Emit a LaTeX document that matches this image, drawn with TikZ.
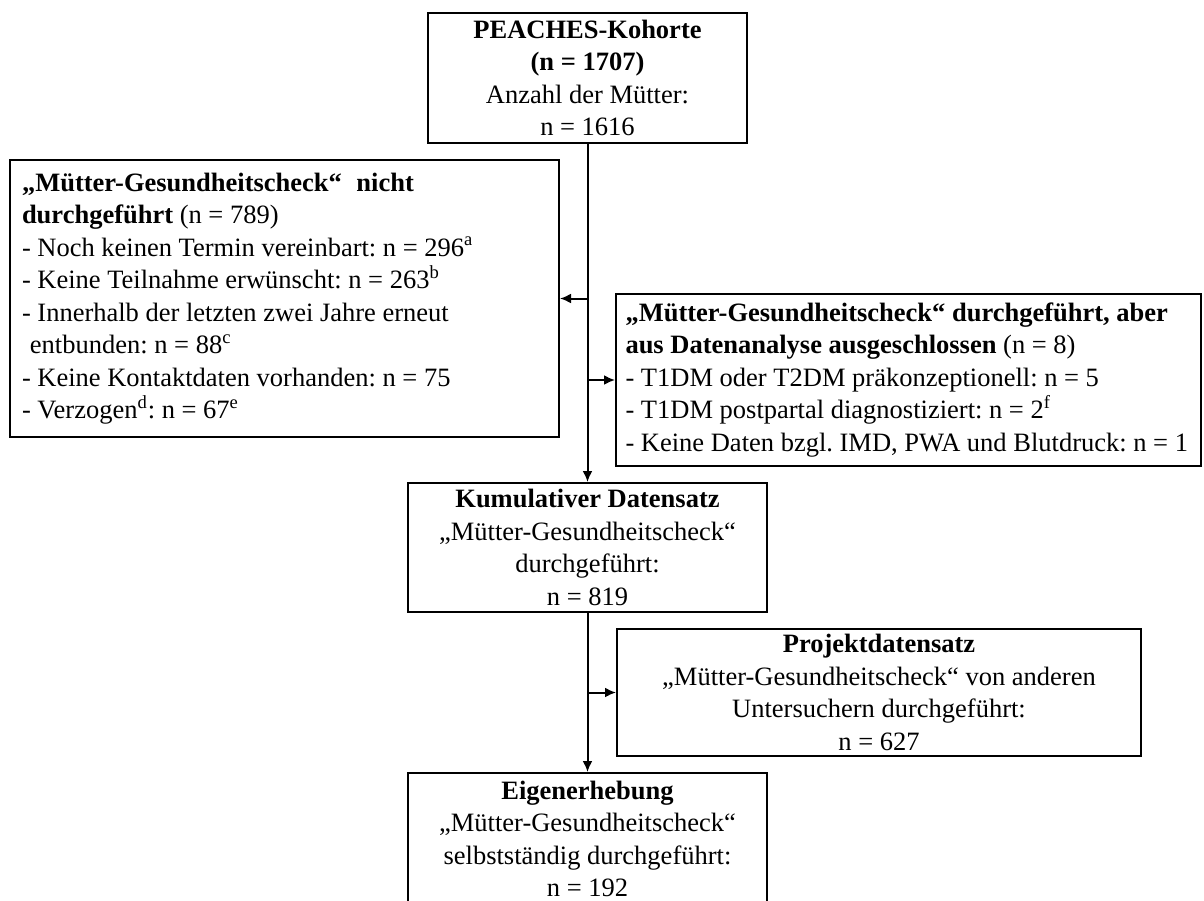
\documentclass[tikz,border=0pt]{standalone}
\usepackage{fontspec}
\setmainfont{Liberation Serif}
\usetikzlibrary{arrows.meta}
\begin{document}
\begin{tikzpicture}[x=0.5pt,y=-0.5pt,
  box/.style={draw, line width=1pt, rectangle, font=\fontsize{13.25}{16.25}\selectfont\frenchspacing, inner ysep=1pt},
  cbox/.style={box, align=center},
  lbox/.style={box, align=flush left},
  arr/.style={line width=1pt, -{Latex[length=5.5pt,width=5pt]}}]
\useasboundingbox (0,0) rectangle (1204,900);

\node[cbox, minimum width=159.5pt, minimum height=65pt] (top) at (587.5,78)
  {\textbf{PEACHES-Kohorte}\\\textbf{(n = 1707)}\\Anzahl der Mütter:\\n = 1616};

\node[lbox, text width=262.5pt, inner xsep=6pt, minimum height=138.5pt] (left) at (284.5,298.5)
  {\textbf{„Mütter-Gesundheitscheck“\hspace{0.3em} nicht}\\
   \textbf{durchgeführt} (n = 789)\\
   - Noch keinen Termin vereinbart: n = 296\textsuperscript{a}\\
   - Keine Teilnahme erwünscht: n = 263\textsuperscript{b}\\
   - Innerhalb der letzten zwei Jahre erneut\\
   \hspace{0.3em}entbunden: n = 88\textsuperscript{c}\\
   - Keine Kontaktdaten vorhanden: n = 75\\
   - Verzogen\textsuperscript{d}: n = 67\textsuperscript{e}};

\node[lbox, text width=283pt, inner xsep=4.75pt, minimum height=86pt] (right) at (908.5,380)
  {\textbf{„Mütter-Gesundheitscheck“ durchgeführt, aber}\\
   \textbf{aus Datenanalyse ausgeschlossen} (n = 8)\\
   - T1DM oder T2DM präkonzeptionell: n = 5\\
   - T1DM postpartal diagnostiziert: n = 2\textsuperscript{f}\\
   \mbox{- Keine Daten bzgl. IMD, PWA und Blutdruck: n = 1}};

\node[cbox, minimum width=179.5pt, minimum height=64.5pt] (kum) at (587.5,547.5)
  {\textbf{Kumulativer Datensatz}\\„Mütter-Gesundheitscheck“\\durchgeführt:\\n = 819};

\node[cbox, minimum width=262pt, minimum height=63.5pt] (proj) at (879,692.5)
  {\textbf{Projektdatensatz}\\„Mütter-Gesundheitscheck“ von anderen\\Untersuchern durchgeführt:\\n = 627};

\node[cbox, minimum width=179.5pt, minimum height=66pt] (eigen) at (587.5,839)
  {\textbf{Eigenerhebung}\\„Mütter-Gesundheitscheck“\\selbstständig durchgeführt:\\n = 192};

\draw[arr] (top.south) -- (kum.north);
\draw[arr] (top.south |- left.east) -- (left.east);
\draw[arr] (top.south |- right.west) -- (right.west);
\draw[arr] (kum.south) -- (eigen.north);
\draw[arr] (kum.south |- proj.west) -- (proj.west);
\end{tikzpicture}
\end{document}
